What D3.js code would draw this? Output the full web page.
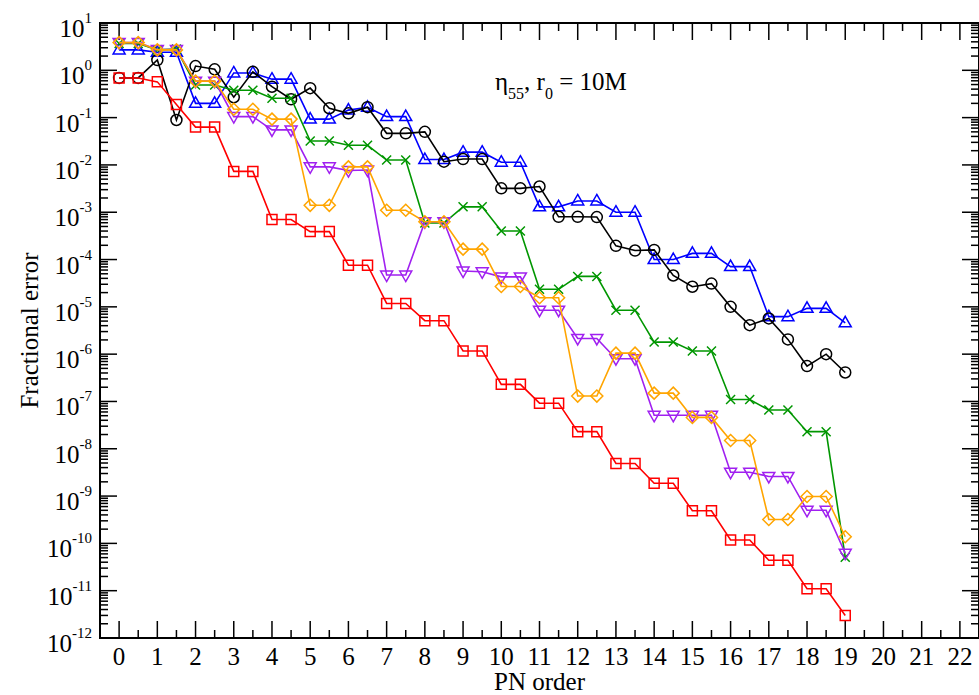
<!DOCTYPE html>
<html>
<head>
<meta charset="utf-8">
<script src="https://cdn.jsdelivr.net/npm/d3@7"></script>
<style>
body { margin: 0; background: #fff; }
text { font-family: "Liberation Serif", "Times New Roman", serif; fill: #000; }
</style>
</head>
<body>
<script>
// PN order of each point
let pnOrder = [0, 0.5, 1, 1.5, 2, 2.5, 3, 3.5, 4, 4.5, 5, 5.5, 6, 6.5, 7, 7.5, 8, 8.5, 9, 9.5,
    10, 10.5, 11, 11.5, 12, 12.5, 13, 13.5, 14, 14.5, 15, 15.5, 16, 16.5, 17, 17.5, 18, 18.5, 19];

let blackErr = [0.69, 0.69, 1.65, 0.089, 1.23, 1.05, 0.27, 0.93, 0.45, 0.244, 0.42, 0.158, 0.123, 0.166,
    0.0465, 0.0465, 0.05, 0.0117, 0.0133, 0.0133, 3.2e-3, 3.2e-3, 3.5e-3, 8e-4, 8e-4, 7.9e-4,
    1.95e-4, 1.55e-4, 1.6e-4, 4.6e-5, 2.66e-5, 3.1e-5, 1e-5, 4.1e-6, 5.7e-6, 2.05e-6, 5.6e-7, 1e-6, 4.1e-7];

let blueErr = [2.7, 2.7, 2.4, 2.4, 0.2, 0.2, 0.88, 0.88, 0.65, 0.65, 0.093, 0.093, 0.144, 0.165,
    0.105, 0.105, 0.013, 0.013, 0.0186, 0.0186, 0.0114, 0.0114, 1.3e-3, 1.3e-3, 1.73e-3, 1.73e-3,
    1e-3, 1e-3, 1e-4, 1e-4, 1.35e-4, 1.35e-4, 7.1e-5, 7.1e-5, 6.2e-6, 6.2e-6, 9.3e-6, 9.3e-6, 4.6e-6];

let greenErr = [3.7, 3.7, 2.7, 2.8, 0.49, 0.49, 0.38, 0.38, 0.257, 0.257, 0.032, 0.032, 0.026, 0.026,
    0.0127, 0.0127, 5.9e-4, 5.9e-4, 1.3e-3, 1.3e-3, 4e-4, 4e-4, 2.35e-5, 2.35e-5, 4.4e-5, 4.4e-5,
    8.5e-6, 8.5e-6, 1.8e-6, 1.8e-6, 1.17e-6, 1.17e-6, 1.1e-7, 1.1e-7, 6.6e-8, 6.6e-8, 2.3e-8, 2.3e-8, 5.1e-11];

let violetErr = [3.85, 3.85, 2.75, 2.75, 0.59, 0.59, 0.105, 0.105, 0.055, 0.055, 9.1e-3, 9.1e-3, 7.6e-3, 7.8e-3,
    4.7e-5, 4.7e-5, 6.3e-4, 6.3e-4, 5.7e-5, 5.5e-5, 4.3e-5, 4.3e-5, 8.5e-6, 8.5e-6, 2.15e-6, 2.15e-6,
    8e-7, 8e-7, 5.1e-8, 5.1e-8, 5.1e-8, 5.1e-8, 3.2e-9, 3.2e-9, 2.6e-9, 2.6e-9, 5e-10, 5e-10, 6.2e-11];

let orangeErr = [3.85, 3.85, 2.7, 2.7, 0.59, 0.59, 0.15, 0.15, 0.093, 0.093, 1.4e-3, 1.4e-3, 9.1e-3, 9.1e-3,
    1.1e-3, 1.1e-3, 6.3e-4, 6.3e-4, 1.66e-4, 1.66e-4, 2.7e-5, 2.7e-5, 1.56e-5, 1.56e-5, 1.3e-7, 1.3e-7,
    1.05e-6, 1.05e-6, 1.5e-7, 1.5e-7, 4.6e-8, 4.6e-8, 1.5e-8, 1.5e-8, 3.2e-10, 3.2e-10, 9.8e-10, 9.8e-10, 1.38e-10];

let redErr = [0.69, 0.69, 0.57, 0.19, 0.063, 0.063, 7.3e-3, 7.3e-3, 7e-4, 7e-4, 3.9e-4, 3.9e-4, 7.6e-5, 7.6e-5,
    1.18e-5, 1.18e-5, 5.1e-6, 5.1e-6, 1.17e-6, 1.17e-6, 2.3e-7, 2.3e-7, 9.2e-8, 9.2e-8, 2.3e-8, 2.3e-8,
    4.9e-9, 4.9e-9, 1.87e-9, 1.87e-9, 4.9e-10, 4.9e-10, 1.18e-10, 1.18e-10, 4.4e-11, 4.4e-11, 1.1e-11, 1.1e-11, 3e-12];

let xTickLabels = d3.range(0, 23);
let yExponents = d3.range(-12, 2);

let series = [
    {values: blueErr, color: "#0000ff", symbol: "triUp"},
    {values: blackErr, color: "#000000", symbol: "circle"},
    {values: greenErr, color: "#009600", symbol: "cross"},
    {values: violetErr, color: "#a020f0", symbol: "triDown"},
    {values: orangeErr, color: "#ffa500", symbol: "diamond"},
    {values: redErr, color: "#ff0000", symbol: "square"}
];

let width = 979, height = 695;
let plot = {left: 100, right: 979, top: 23, bottom: 638};

let x = d3.scaleLinear().domain([-0.5, 22.5]).range([plot.left, plot.right]);
let y = d3.scaleLog().domain([1e-12, 10]).range([plot.bottom, plot.top]);

let svg = d3.select("body").append("svg")
    .attr("width", width)
    .attr("height", height);

// marker shapes, centred on 0,0
const symbolPath = (type) => {
    switch (type) {
        case "circle": return "M5.5,0A5.5,5.5 0 1,1 -5.5,0A5.5,5.5 0 1,1 5.5,0Z";
        case "square": return "M-5,-5H5V5H-5Z";
        case "triUp": return "M0,-6.5L6,4L-6,4Z";
        case "triDown": return "M0,6.5L6,-4L-6,-4Z";
        case "diamond": return "M0,-6L6,0L0,6L-6,0Z";
        case "cross": return "M-4.5,-4.5L4.5,4.5M-4.5,4.5L4.5,-4.5";
    }
};

// ---- ticks ----
let xMinor = d3.range(0, 23).map(d => d + 0.5).filter(d => d < 22.5);
let yMinor = [];
yExponents.slice(0, -1).forEach(e => {
    for (let m = 2; m <= 9; m++) yMinor.push(m * Math.pow(10, e));
});

let ticks = svg.append("g").attr("class", "ticks")
    .attr("stroke", "#000").attr("stroke-width", 1.5);

[plot.bottom, plot.top].forEach(yy => {
    let dir = yy === plot.bottom ? -1 : 1;
    ticks.append("g").selectAll("line").data(xTickLabels).enter().append("line")
        .attr("x1", d => x(d)).attr("x2", d => x(d))
        .attr("y1", yy).attr("y2", yy + dir * 17);
    ticks.append("g").selectAll("line").data(xMinor).enter().append("line")
        .attr("x1", d => x(d)).attr("x2", d => x(d))
        .attr("y1", yy).attr("y2", yy + dir * 8);
});

[plot.left, plot.right].forEach(xx => {
    let dir = xx === plot.left ? 1 : -1;
    ticks.append("g").selectAll("line").data(yExponents.map(e => Math.pow(10, e))).enter().append("line")
        .attr("x1", xx).attr("x2", xx + dir * 17)
        .attr("y1", d => y(d)).attr("y2", d => y(d));
    ticks.append("g").selectAll("line").data(yMinor).enter().append("line")
        .attr("x1", xx).attr("x2", xx + dir * 8)
        .attr("y1", d => y(d)).attr("y2", d => y(d));
});

svg.append("rect")
    .attr("x", plot.left).attr("y", plot.top)
    .attr("width", plot.right - plot.left).attr("height", plot.bottom - plot.top)
    .attr("fill", "none").attr("stroke", "#000").attr("stroke-width", 2);

// ---- tick labels ----
svg.append("g").selectAll("text").data(xTickLabels).enter().append("text")
    .attr("x", d => x(d))
    .attr("y", plot.bottom + 27)
    .attr("text-anchor", "middle")
    .style("font-size", "25px")
    .text(d => d);

let yLab = svg.append("g").selectAll("text").data(yExponents).enter().append("text")
    .attr("x", 92)
    .attr("y", d => y(Math.pow(10, d)) + 14)
    .attr("text-anchor", "end")
    .style("font-size", "25px");
yLab.append("tspan").text("10");
yLab.append("tspan")
    .attr("dy", -14)
    .style("font-size", "15px")
    .text(d => d);

// ---- axis titles ----
svg.append("text")
    .attr("x", (plot.left + plot.right) / 2)
    .attr("y", 690)
    .attr("text-anchor", "middle")
    .style("font-size", "25px")
    .text("PN order");

svg.append("text")
    .attr("transform", "translate(38," + ((plot.top + plot.bottom) / 2) + ") rotate(-90)")
    .attr("text-anchor", "middle")
    .style("font-size", "25px")
    .text("Fractional error");

// annotation
let note = svg.append("text")
    .attr("x", 495).attr("y", 90)
    .style("font-size", "25px");
note.append("tspan").text("η");
note.append("tspan").attr("dy", 9).style("font-size", "16px").text("55");
note.append("tspan").attr("dy", -9).text(", r");
note.append("tspan").attr("dy", 9).style("font-size", "16px").text("0");
note.append("tspan").attr("dy", -9).text(" = 10M");

// ---- series ----
let line = d3.line()
    .x((d, i) => x(pnOrder[i]))
    .y(d => y(d));

let g = svg.append("g").attr("class", "series");
series.forEach(s => {
    let sg = g.append("g");
    sg.append("path")
        .datum(s.values)
        .attr("d", line)
        .attr("fill", "none")
        .attr("stroke", s.color)
        .attr("stroke-width", 1.6);
    sg.selectAll("path.mark").data(s.values).enter().append("path")
        .attr("class", "mark")
        .attr("transform", (d, i) => "translate(" + x(pnOrder[i]) + "," + y(d) + ")")
        .attr("d", symbolPath(s.symbol))
        .attr("fill", "none")
        .attr("stroke", s.color)
        .attr("stroke-width", 1.5);
});
</script>
</body>
</html>
